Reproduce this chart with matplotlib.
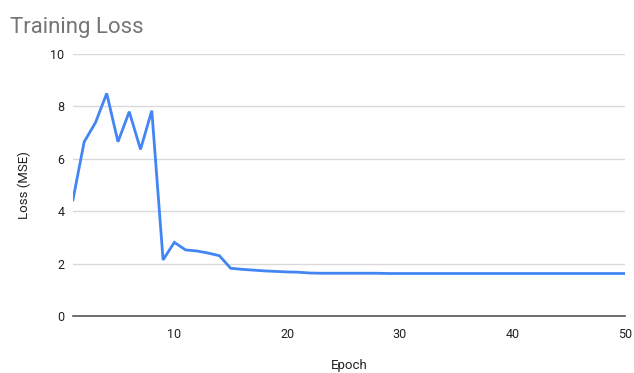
import matplotlib
matplotlib.use("Agg")
import matplotlib.pyplot as plt

epochs = list(range(1, 51))
loss = [4.43, 6.65, 7.38, 8.5, 6.65, 7.8, 6.36, 7.84, 2.14, 2.81,
        2.52, 2.48, 2.4, 2.3, 1.82, 1.78, 1.75, 1.72, 1.70, 1.68,
        1.67, 1.64, 1.63, 1.63, 1.63, 1.63, 1.63, 1.63, 1.62, 1.62,
        1.62, 1.62, 1.62, 1.62, 1.62, 1.62, 1.62, 1.62, 1.62, 1.62,
        1.62, 1.62, 1.62, 1.62, 1.62, 1.62, 1.62, 1.62, 1.62, 1.62]
xticks = [10, 20, 30, 40, 50]
yticks = [0, 2, 4, 6, 8, 10]

plt.rcParams['font.family'] = ['Roboto', 'DejaVu Sans']

fig = plt.figure(figsize=(6.34, 3.73), dpi=100)
ax = fig.add_axes([0.115, 0.153, 0.871, 0.702])
ax.plot(epochs, loss, color='#4285F4', lw=2, solid_joinstyle='miter')
ax.set_xlim(1, 50)
ax.set_ylim(0, 10)
ax.set_xticks(xticks)
ax.set_yticks(yticks)
ax.grid(axis='y', color='#d9d9d9', lw=1)
ax.set_axisbelow(True)
for s in ['top', 'right', 'left']:
    ax.spines[s].set_visible(False)
ax.spines['bottom'].set_color('#555555')
ax.spines['bottom'].set_linewidth(1.2)
ax.tick_params(length=0, labelsize=9, colors='#222222', pad=6)
ax.tick_params(axis='x', pad=9)
ax.set_xlabel('Epoch', fontsize=9.5, color='#222222', labelpad=13)
ax.set_ylabel('Loss (MSE)', fontsize=9.5, color='#222222', labelpad=14)
fig.text(0.016, 0.955, 'Training Loss', fontsize=16, color='#757575', va='top', ha='left')
fig.savefig('out.png', dpi=100)
